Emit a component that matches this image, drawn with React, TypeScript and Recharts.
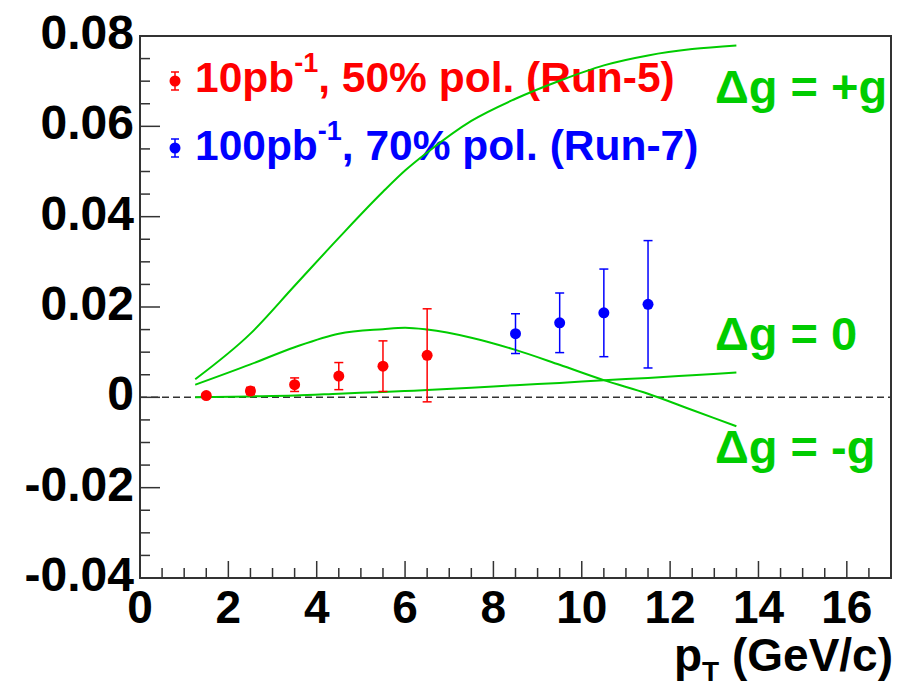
import React from 'react'
import {
  ComposedChart, Line, Scatter, ErrorBar, XAxis, YAxis, ReferenceLine, ReferenceArea,
} from 'recharts'

// run-5 projection (red)
const run5X = [1.5, 2.5, 3.5, 4.5, 5.5, 6.5]
const run5Y = [0.0004, 0.0014, 0.0028, 0.0047, 0.0069, 0.0093]
const run5Err = [0.0005, 0.0008, 0.0015, 0.003, 0.0056, 0.0103]

// run-7 projection (blue)
const run7X = [8.5, 9.5, 10.5, 11.5]
const run7Y = [0.0141, 0.0165, 0.0187, 0.0206]
const run7Err = [0.0044, 0.0066, 0.0097, 0.0141]

// theory curves
const curveX = [1.25, 2.5, 3.5, 4.5, 5.5, 6, 6.5, 7.5, 8.5, 9.5, 10.5, 11.5, 12.5, 13.5]
const plusG = [0.004, 0.0141, 0.0247, 0.0353, 0.0455, 0.0502, 0.0542, 0.0612, 0.0661, 0.0701, 0.0735, 0.0757, 0.0771, 0.0779]
const zeroG = [0.0, 0.0002, 0.0004, 0.0008, 0.0012, 0.0014, 0.0016, 0.0021, 0.0027, 0.0032, 0.0038, 0.0043, 0.0049, 0.0055]
const minusG = [0.0028, 0.0073, 0.0111, 0.0141, 0.0151, 0.0154, 0.015, 0.0132, 0.0105, 0.0072, 0.0038, 0.0008, -0.0028, -0.0064]

const xMajor = [0, 2, 4, 6, 8, 10, 12, 14, 16]
const yMajor = [-0.04, -0.02, 0, 0.02, 0.04, 0.06, 0.08]
const xTicks = Array.from({ length: 34 }, (_, i) => i * 0.5)
const yTicks = Array.from({ length: 25 }, (_, i) => Math.round((-0.04 + i * 0.005) * 1000) / 1000)

const FONT = '"Liberation Sans", Arial, Helvetica, sans-serif'
const GREEN = '#00cc00'
const FRAME = '#333333'

const pts = (xs: number[], ys: number[], errs?: number[]) =>
  xs.map((x, i) => ({ x, y: ys[i], err: errs ? errs[i] : 0 }))

const run5 = pts(run5X, run5Y, run5Err)
const run7 = pts(run7X, run7Y, run7Err)
const curvePlus = pts(curveX, plusG)
const curveZero = pts(curveX, zeroG)
const curveMinus = pts(curveX, minusG)

const isMajor = (v: number, list: number[]) => list.some((m) => Math.abs(m - v) < 1e-9)

// eslint-disable-next-line @typescript-eslint/no-explicit-any
const XTick = (props: any) => {
  const { x, y, payload } = props
  const major = isMajor(payload.value, xMajor)
  return (
    <g>
      <line x1={x} y1={y} x2={x} y2={y - (major ? 17 : 10)} stroke={FRAME} strokeWidth={1.5} />
      {major && (
        <text x={x} y={y + 45} textAnchor="middle" fontFamily={FONT} fontWeight="bold" fontSize={46} fill="#000">
          {payload.value}
        </text>
      )}
    </g>
  )
}

// eslint-disable-next-line @typescript-eslint/no-explicit-any
const YTick = (props: any) => {
  const { x, y, payload } = props
  const major = isMajor(payload.value, yMajor)
  return (
    <g>
      <line x1={x} y1={y} x2={x + (major ? 20 : 10)} y2={y} stroke={FRAME} strokeWidth={1.5} />
      {major && (
        <text x={x - 6} y={y + 13} textAnchor="end" fontFamily={FONT} fontWeight="bold" fontSize={48} fill="#000">
          {payload.value === 0 ? '0' : payload.value.toFixed(2)}
        </text>
      )}
    </g>
  )
}

const dot = (color: string) =>
  // eslint-disable-next-line @typescript-eslint/no-explicit-any
  (p: any) => <circle cx={p.cx} cy={p.cy} r={5.5} fill={color} />

const LegendMark = ({ x, y, color }: { x: number; y: number; color: string }) => (
  <g stroke={color} strokeWidth={1.5}>
    <line x1={x} y1={y - 9} x2={x} y2={y + 9} />
    <line x1={x - 4} y1={y - 9} x2={x + 4} y2={y - 9} />
    <line x1={x - 4} y1={y + 9} x2={x + 4} y2={y + 9} />
    <circle cx={x} cy={y} r={5.5} fill={color} stroke="none" />
  </g>
)

export default function App() {
  return (
    <div style={{ position: 'absolute', left: 0, top: 0, background: '#fff' }}>
      <ComposedChart width={903} height={690} margin={{ top: 36, right: 12, bottom: 0, left: 0 }}>
        <XAxis
          dataKey="x"
          type="number"
          domain={[0, 17]}
          ticks={xTicks}
          interval={0}
          height={112}
          axisLine={false}
          tickLine={false}
          tickSize={0}
          tickMargin={0}
          tick={<XTick />}
          allowDuplicatedCategory={false}
        />
        <YAxis
          type="number"
          domain={[-0.04, 0.08]}
          ticks={yTicks}
          interval={0}
          width={140}
          axisLine={false}
          tickLine={false}
          tickSize={0}
          tickMargin={0}
          tick={<YTick />}
        />
        <ReferenceArea x1={0} x2={17} y1={-0.04} y2={0.08} fill="none" stroke={FRAME} strokeWidth={2} strokeOpacity={1} />
        <ReferenceLine y={0} stroke={FRAME} strokeDasharray="7 4" strokeWidth={1.5} />

        <Line data={curvePlus} dataKey="y" type="monotone" stroke={GREEN} strokeWidth={2} dot={false} isAnimationActive={false} />
        <Line data={curveZero} dataKey="y" type="monotone" stroke={GREEN} strokeWidth={2} dot={false} isAnimationActive={false} />
        <Line data={curveMinus} dataKey="y" type="monotone" stroke={GREEN} strokeWidth={2} dot={false} isAnimationActive={false} />

        <Scatter data={run5} dataKey="y" fill="#ff0000" shape={dot('#ff0000')} isAnimationActive={false}>
          <ErrorBar dataKey="err" direction="y" width={4.5} stroke="#ff0000" strokeWidth={1.5} isAnimationActive={false} />
        </Scatter>
        <Scatter data={run7} dataKey="y" fill="#0000ff" shape={dot('#0000ff')} isAnimationActive={false}>
          <ErrorBar dataKey="err" direction="y" width={4.5} stroke="#0000ff" strokeWidth={1.5} isAnimationActive={false} />
        </Scatter>

        {/* legend */}
        <LegendMark x={175} y={81} color="#ff0000" />
        <text x={195} y={92} fontFamily={FONT} fontWeight="bold" fontSize={42.5} fill="#ff0000">
          10pb<tspan dy={-20} fontSize={27}>-1</tspan><tspan dy={20}>, 50% pol. (Run-5)</tspan>
        </text>
        <LegendMark x={175} y={148} color="#0000ff" />
        <text x={195} y={160} fontFamily={FONT} fontWeight="bold" fontSize={42.5} fill="#0000ff">
          100pb<tspan dy={-20} fontSize={27}>-1</tspan><tspan dy={20}>, 70% pol. (Run-7)</tspan>
        </text>

        {/* curve labels */}
        <text x={715} y={103} fontFamily={FONT} fontWeight="bold" fontSize={47} fill={GREEN}>Δg = +g</text>
        <text x={715} y={350} fontFamily={FONT} fontWeight="bold" fontSize={47} fill={GREEN}>Δg = 0</text>
        <text x={715} y={463} fontFamily={FONT} fontWeight="bold" fontSize={47} fill={GREEN}>Δg = -g</text>

        {/* axis title */}
        <text x={893} y={671} textAnchor="end" fontFamily={FONT} fontWeight="bold" fontSize={46} fill="#000">
          p<tspan dy={10} fontSize={28}>T</tspan><tspan dy={-10}> (GeV/c)</tspan>
        </text>
      </ComposedChart>
    </div>
  )
}
